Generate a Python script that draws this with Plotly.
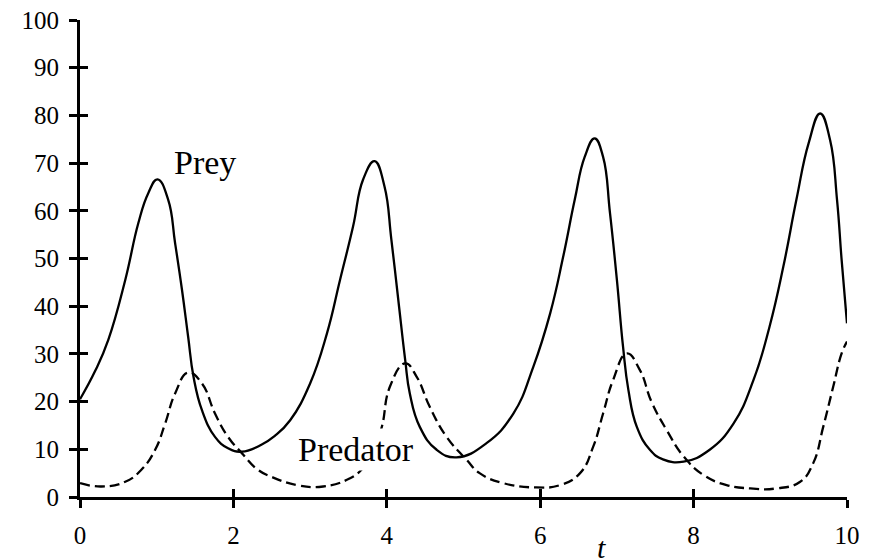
import plotly.graph_objects as go

# Prey population (solid)
prey_t = [0, 0.2, 0.37, 0.59, 0.76, 0.89, 1.01, 1.15, 1.24, 1.33, 1.41, 1.48, 1.59, 1.76, 1.93, 2.11,
          2.37, 2.54, 2.74, 3.0, 3.22, 3.39, 3.56, 3.69, 3.84, 3.97, 4.06, 4.15, 4.24, 4.30, 4.43,
          4.65, 4.91, 5.30, 5.65, 5.91, 6.13, 6.30, 6.45, 6.58, 6.71, 6.82, 6.91, 7.0, 7.08, 7.15,
          7.26, 7.43, 7.60, 7.87, 8.21, 8.52, 8.78, 8.99, 9.17, 9.34, 9.50, 9.65, 9.78, 9.87, 9.93, 10.0]
prey = [20.5, 26.5, 33.0, 45.5, 57.4, 63.7, 66.6, 62.3, 53.2, 43.4, 33.6, 25.2, 18.2, 12.6, 10.2, 9.5,
        11.0, 12.8, 16.1, 23.8, 34.3, 45.5, 56.7, 66.5, 70.4, 65.1, 53.9, 41.3, 28.7, 21.7, 14.7,
        9.9, 8.3, 11.3, 17.5, 27.3, 38.5, 50.4, 62.3, 71.3, 75.2, 71.3, 59.5, 45.5, 31.5, 22.4,
        14.7, 9.9, 7.9, 7.4, 9.9, 15.4, 24.5, 35.7, 48.3, 62.3, 74.2, 80.4, 74.8, 62.3, 49.7, 36.4]

# Predator population (dashed)
pred_t = [0, 0.28, 0.59, 0.80, 0.98, 1.11, 1.24, 1.41, 1.59, 1.76, 1.93, 2.11, 2.32, 2.50, 2.83,
          3.17, 3.48, 3.67, 3.80, 3.93, 4.04, 4.24, 4.39, 4.56, 4.78, 5.04, 5.21, 5.52, 5.95, 6.26,
          6.52, 6.69, 6.82, 6.95, 7.13, 7.30, 7.45, 7.65, 7.87, 8.13, 8.43, 8.74, 9.08, 9.39, 9.56,
          9.69, 9.82, 9.93, 10.0]
pred = [2.9, 2.2, 3.2, 5.7, 9.9, 15.4, 21.7, 26.1, 23.8, 17.5, 12.6, 9.2, 5.7, 4.2, 2.5,
        2.2, 3.6, 5.7, 9.0, 14.4, 23.1, 28.0, 25.2, 18.9, 12.6, 7.8, 5.0, 2.9, 2.0, 2.5,
        5.0, 10.5, 17.5, 24.5, 30.1, 26.6, 20.0, 14.0, 8.5, 4.6, 2.5, 1.8, 1.8, 3.2, 7.1,
        14.7, 23.1, 30.1, 32.6]

x_ticks = [0, 2, 4, 6, 8, 10]
y_ticks = [0, 10, 20, 30, 40, 50, 60, 70, 80, 90, 100]

FONT = "Liberation Serif"
TICK_SIZE = 25
LABEL_SIZE = 34

fig = go.Figure()
fig.add_trace(go.Scatter(x=prey_t, y=prey, mode="lines", name="Prey",
                         line=dict(color="black", width=2.3, shape="spline", smoothing=1.3)))
fig.add_trace(go.Scatter(x=pred_t, y=pred, mode="lines", name="Predator",
                         line=dict(color="black", width=2.3, dash="10px,5px", shape="spline",
                                   smoothing=1.3)))
# helper empty trace for the inner tick axes
fig.add_trace(go.Scatter(x=[None], y=[None], xaxis="x2", yaxis="y2", showlegend=False,
                         hoverinfo="skip"))

common = dict(showgrid=False, zeroline=False, tickcolor="black", ticklen=8, tickwidth=3,
              automargin=False)

fig.update_layout(
    width=874, height=560,
    margin=dict(l=80, r=27, t=20, b=63),
    paper_bgcolor="white", plot_bgcolor="white",
    showlegend=False,
    font=dict(family=FONT, color="black", size=TICK_SIZE),
    xaxis=dict(range=[0, 10], tickvals=x_ticks, ticks="outside", showline=True,
               linecolor="black", linewidth=3, ticklabelstandoff=6,
               tickfont=dict(family=FONT, size=TICK_SIZE, color="black"), **common),
    yaxis=dict(range=[0, 100], tickvals=y_ticks, ticks="outside", showline=True,
               linecolor="black", linewidth=3, ticklabelstandoff=5,
               tickfont=dict(family=FONT, size=TICK_SIZE, color="black"), **common),
    xaxis2=dict(range=[0, 10], tickvals=x_ticks, ticks="inside", showline=False,
                showticklabels=False, overlaying="x", anchor="y2", side="bottom", **common),
    yaxis2=dict(range=[0, 100], tickvals=y_ticks, ticks="inside", showline=False,
                showticklabels=False, overlaying="y", anchor="x2", side="left", **common),
    annotations=[
        dict(x=1.63, y=70.2, xref="x", yref="y", text="Prey", showarrow=False,
             font=dict(family=FONT, size=LABEL_SIZE, color="black")),
        dict(x=3.6, y=9.9, xref="x", yref="y", text="Predator", showarrow=False,
             bgcolor="white", borderpad=2,
             font=dict(family=FONT, size=LABEL_SIZE, color="black")),
        dict(x=6.8, y=-0.068, xref="x", yref="paper", yanchor="top", text="<i>t</i>",
             showarrow=False, font=dict(family=FONT, size=30, color="black")),
    ],
)

fig.write_html("out.html", config={"displayModeBar": False},
               post_script="document.body.style.margin='0';")
